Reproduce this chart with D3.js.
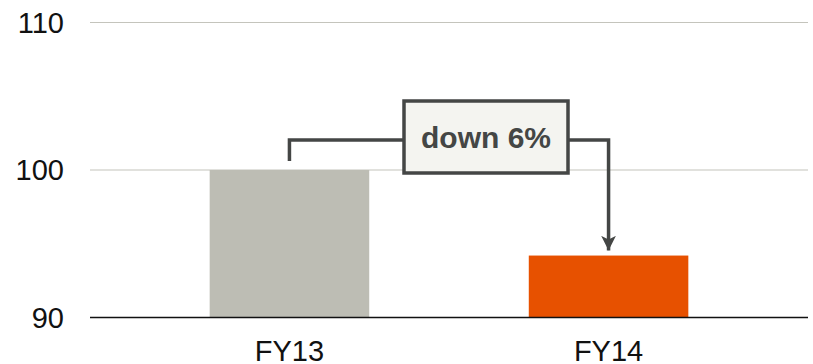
<!DOCTYPE html>
<html>
<head>
<meta charset="utf-8">
<script src="https://cdn.jsdelivr.net/npm/d3@7"></script>
<style>
  html, body { margin: 0; padding: 0; background: #fff; }
  svg { display: block; font-family: "Liberation Sans", Arial, sans-serif; }
</style>
</head>
<body>
<svg id="chart" width="813" height="364"></svg>
<script>
// Index values by fiscal year
const categories = ["FY13", "FY14"];
const values = [100, 94.2];
const barColors = ["#BDBDB4", "#E75100"];
const yTicks = [90, 100, 110];
const changeLabel = "down 6%";

const svg = d3.select("#chart");
const plotLeft = 90, plotRight = 808, plotTop = 22.5, plotBottom = 317.5;

const x = d3.scaleBand()
  .domain(categories)
  .range([plotLeft, plotRight])
  .paddingInner(0.5)
  .paddingOuter(0.375);

const y = d3.scaleLinear().domain([90, 110]).range([plotBottom, plotTop]);

// gridlines
svg.append("g")
  .selectAll("line")
  .data(yTicks.filter(d => d !== 90))
  .join("line")
  .attr("x1", plotLeft).attr("x2", plotRight)
  .attr("y1", d => y(d)).attr("y2", d => y(d))
  .attr("stroke", "#C4C4BC")
  .attr("stroke-width", 1.2);

// y tick labels
svg.append("g")
  .selectAll("text")
  .data(yTicks)
  .join("text")
  .attr("x", 64)
  .attr("y", d => y(d))
  .attr("dy", "0.35em")
  .attr("text-anchor", "end")
  .attr("font-size", 29)
  .attr("fill", "#111")
  .text(d => d);

// bars
svg.append("g")
  .selectAll("rect")
  .data(categories)
  .join("rect")
  .attr("x", d => x(d))
  .attr("width", x.bandwidth())
  .attr("y", (d, i) => y(values[i]))
  .attr("height", (d, i) => y(90) - y(values[i]))
  .attr("fill", (d, i) => barColors[i]);

// baseline axis
svg.append("line")
  .attr("x1", plotLeft).attr("x2", plotRight)
  .attr("y1", y(90)).attr("y2", y(90))
  .attr("stroke", "#111")
  .attr("stroke-width", 1.6);

// category labels
svg.append("g")
  .selectAll("text")
  .data(categories)
  .join("text")
  .attr("x", d => x(d) + x.bandwidth() / 2)
  .attr("y", 361)
  .attr("text-anchor", "middle")
  .attr("font-size", 29)
  .attr("fill", "#111")
  .text(d => d);

// change annotation: bracket from FY13 to FY14 with a labelled box
const cx0 = x(categories[0]) + x.bandwidth() / 2;
const cx1 = x(categories[1]) + x.bandwidth() / 2;
const lineY = y(values[0]) - 30;
const boxW = 164, boxH = 72;
const boxX = (cx0 + cx1) / 2 - boxW / 2 + 37;
const boxY = lineY - 39;
const ink = "#444645";

svg.append("defs").append("marker")
  .attr("id", "arrow")
  .attr("viewBox", "0 0 10 10")
  .attr("refX", 10).attr("refY", 5)
  .attr("markerWidth", 4.2).attr("markerHeight", 4.2)
  .attr("markerUnits", "strokeWidth")
  .attr("orient", "auto")
  .append("path")
  .attr("d", "M0,0 L10,5 L0,10 L2.5,5 Z")
  .attr("fill", ink);

svg.append("path")
  .attr("d", `M${cx0},${y(values[0]) - 9} V${lineY} H${boxX}`)
  .attr("fill", "none")
  .attr("stroke", ink)
  .attr("stroke-width", 3.5);

svg.append("path")
  .attr("d", `M${boxX + boxW},${lineY} H${cx1} V${y(values[1]) - 5}`)
  .attr("fill", "none")
  .attr("stroke", ink)
  .attr("stroke-width", 3.5)
  .attr("marker-end", "url(#arrow)");

svg.append("rect")
  .attr("x", boxX).attr("y", boxY)
  .attr("width", boxW).attr("height", boxH)
  .attr("fill", "#F4F4F0")
  .attr("stroke", ink)
  .attr("stroke-width", 3.5);

svg.append("text")
  .attr("x", boxX + boxW / 2)
  .attr("y", boxY + boxH / 2)
  .attr("dy", "0.35em")
  .attr("text-anchor", "middle")
  .attr("font-size", 30)
  .attr("font-weight", "bold")
  .attr("fill", ink)
  .text(changeLabel);
</script>
</body>
</html>
